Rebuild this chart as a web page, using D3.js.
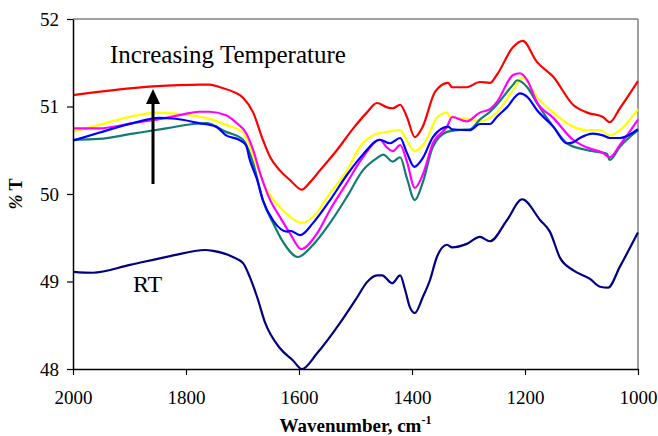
<!DOCTYPE html>
<html>
<head>
<meta charset="utf-8">
<script src="https://cdn.jsdelivr.net/npm/d3@7"></script>
<style>
  html, body { margin: 0; padding: 0; background: #fff; }
  svg { display: block; }
</style>
</head>
<body>
<svg id="chart" width="658" height="436"></svg>
<script>
// FTIR spectra: % transmittance vs. wavenumber (cm-1)
const xTicks = [2000, 1800, 1600, 1400, 1200, 1000];
const yTicks = [48, 49, 50, 51, 52];

// [wavenumber, %T] pairs for each spectrum
const rtSpectrum = [
  [2000,49.11],[1965,49.10],[1899,49.19],[1828,49.29],[1766,49.36],[1752,49.35],[1717,49.28],
  [1699,49.21],[1687,49.05],[1674,48.82],[1660,48.53],[1634,48.24],[1611,48.10],[1595,48.00],
  [1568,48.18],[1527,48.53],[1497,48.82],[1480,48.99],[1462,49.07],[1453,49.07],[1435,48.98],
  [1421,49.07],[1412,48.90],[1404,48.71],[1395,48.64],[1381,48.82],[1368,49.02],[1356,49.28],
  [1338,49.42],[1329,49.39],[1303,49.43],[1280,49.51],[1262,49.46],[1232,49.70],[1205,49.94],
  [1173,49.70],[1156,49.57],[1138,49.27],[1115,49.13],[1085,49.03],[1067,48.94],[1053,48.93],
  [1032,49.17],[1000,49.56]
];
const redSpectrum = [
  [2000,51.13],[1858,51.23],[1775,51.25],[1758,51.25],[1740,51.22],[1717,51.17],[1699,51.10],
  [1681,50.93],[1664,50.62],[1651,50.42],[1634,50.27],[1616,50.16],[1595,50.05],[1581,50.13],
  [1563,50.27],[1533,50.50],[1504,50.75],[1480,50.93],[1462,51.04],[1444,50.99],[1434,50.98],
  [1421,51.02],[1409,50.88],[1395,50.65],[1381,50.77],[1359,51.17],[1336,51.27],[1329,51.22],
  [1303,51.22],[1280,51.28],[1262,51.27],[1250,51.36],[1221,51.68],[1204,51.75],[1179,51.51],
  [1150,51.34],[1115,51.02],[1090,50.93],[1062,50.88],[1050,50.82],[1032,50.98],[1000,51.29]
];
const yellowSpectrum = [
  [2000,50.71],[1954,50.79],[1894,50.89],[1853,50.93],[1805,50.91],[1765,50.87],[1729,50.79],
  [1699,50.70],[1690,50.59],[1674,50.31],[1657,50.05],[1634,49.85],[1616,49.74],[1595,49.67],
  [1575,49.74],[1545,50.01],[1515,50.27],[1492,50.54],[1469,50.67],[1444,50.71],[1421,50.73],
  [1409,50.61],[1395,50.49],[1377,50.59],[1356,50.87],[1338,50.93],[1333,50.88],[1303,50.86],
  [1280,50.83],[1262,50.87],[1250,50.93],[1221,51.19],[1204,51.33],[1179,51.11],[1150,50.93],
  [1115,50.77],[1090,50.73],[1067,50.73],[1050,50.67],[1032,50.73],[1000,50.97]
];
const magentaSpectrum = [
  [2000,50.75],[1954,50.75],[1894,50.81],[1835,50.87],[1805,50.91],[1777,50.94],[1759,50.94],
  [1729,50.90],[1712,50.82],[1694,50.70],[1681,50.50],[1669,50.24],[1651,49.93],[1634,49.74],
  [1616,49.55],[1596,49.37],[1568,49.55],[1545,49.82],[1515,50.13],[1487,50.42],[1457,50.62],
  [1444,50.53],[1434,50.49],[1421,50.56],[1409,50.37],[1395,50.07],[1381,50.22],[1363,50.58],
  [1338,50.77],[1329,50.88],[1303,50.83],[1280,50.93],[1262,50.97],[1250,51.05],[1221,51.36],
  [1209,51.38],[1196,51.30],[1179,51.05],[1150,50.87],[1115,50.62],[1090,50.53],[1062,50.47],
  [1050,50.42],[1032,50.56],[1000,50.85]
];
const blueSpectrum = [
  [2000,50.61],[1954,50.70],[1894,50.81],[1848,50.87],[1818,50.86],[1777,50.81],[1747,50.77],
  [1729,50.67],[1706,50.62],[1694,50.56],[1687,50.39],[1674,50.16],[1664,49.93],[1646,49.70],
  [1621,49.57],[1616,49.58],[1598,49.53],[1575,49.67],[1545,49.93],[1515,50.22],[1487,50.45],
  [1457,50.62],[1439,50.58],[1421,50.64],[1409,50.47],[1396,50.31],[1381,50.41],[1363,50.65],
  [1336,50.77],[1329,50.74],[1297,50.73],[1280,50.80],[1262,50.80],[1250,50.88],[1232,50.99],
  [1209,51.15],[1196,51.11],[1179,50.96],[1150,50.77],[1126,50.58],[1115,50.59],[1103,50.64],
  [1080,50.69],[1062,50.67],[1050,50.64],[1032,50.64],[1000,50.74]
];
const tealSpectrum = [
  [2000,50.62],[1954,50.63],[1894,50.69],[1835,50.75],[1788,50.80],[1765,50.81],[1729,50.71],
  [1699,50.62],[1681,50.35],[1664,49.93],[1646,49.67],[1628,49.45],[1602,49.28],[1575,49.42],
  [1545,49.67],[1515,49.97],[1487,50.27],[1462,50.41],[1451,50.45],[1434,50.37],[1421,50.42],
  [1409,50.18],[1395,49.93],[1381,50.13],[1363,50.54],[1338,50.71],[1320,50.73],[1297,50.74],
  [1280,50.85],[1262,50.94],[1250,51.02],[1221,51.25],[1214,51.30],[1196,51.22],[1179,51.04],
  [1150,50.77],[1126,50.58],[1090,50.50],[1055,50.46],[1050,50.39],[1032,50.54],[1000,50.73]
];

const seriesList = [
  { data: yellowSpectrum,  color: "#ffff00" },
  { data: tealSpectrum,    color: "#117c74" },
  { data: magentaSpectrum, color: "#ff00ff" },
  { data: blueSpectrum,    color: "#0000ff" },
  { data: redSpectrum,     color: "#ff0000" },
  { data: rtSpectrum,      color: "#000080" }
];

// pick the first installed Times-like face
function pickFont(candidates) {
  const ctx = document.createElement("canvas").getContext("2d");
  const probe = "Increasing Temperature 0123456789 Wavenumber";
  for (const base of ["monospace", "sans-serif"]) {
    ctx.font = `40px ${base}`;
    const w0 = ctx.measureText(probe).width;
    for (const name of candidates) {
      ctx.font = `40px "${name}", ${base}`;
      if (Math.abs(ctx.measureText(probe).width - w0) > 0.5) return `"${name}", serif`;
    }
  }
  return "serif";
}
const serif = pickFont(["Liberation Serif", "Tinos", "Times New Roman", "Times", "Nimbus Roman",
  "Nimbus Roman No9 L", "FreeSerif", "Noto Serif", "DejaVu Serif", "Bitstream Vera Serif"]);

const svg = d3.select("#chart");
const margin = { left: 73, right: 20, top: 19, bottom: 67 };
const W = 658, H = 436;

const x = d3.scaleLinear().domain([2000, 1000]).range([margin.left, W - margin.right]);
const y = d3.scaleLinear().domain([48, 52]).range([H - margin.bottom, margin.top]);

// frame: grey top and right edges
svg.append("line")
  .attr("x1", x(2000)).attr("x2", x(1000)).attr("y1", y(52)).attr("y2", y(52))
  .attr("stroke", "#808080").attr("stroke-width", 1.5);
svg.append("line")
  .attr("x1", x(1000)).attr("x2", x(1000)).attr("y1", y(52)).attr("y2", y(48))
  .attr("stroke", "#808080").attr("stroke-width", 1.5);

// spectra
const line = d3.line()
  .x(d => x(d[0]))
  .y(d => y(d[1]))
  .curve(d3.curveMonotoneX);

svg.append("g").selectAll("path")
  .data(seriesList)
  .join("path")
  .attr("d", d => line(d.data))
  .attr("fill", "none")
  .attr("stroke", d => d.color)
  .attr("stroke-width", 2.2)
  .attr("stroke-linejoin", "round");

// axes
const yAxis = svg.append("g")
  .attr("transform", `translate(${x(2000)},0)`)
  .call(d3.axisLeft(y).tickValues(yTicks).tickFormat(d3.format("d")).tickSize(6).tickPadding(8).tickSizeOuter(0));
const xAxis = svg.append("g")
  .attr("transform", `translate(0,${y(48)})`)
  .call(d3.axisBottom(x).tickValues(xTicks).tickFormat(d3.format("d")).tickSize(6).tickPadding(16).tickSizeOuter(0));

[yAxis, xAxis].forEach(g => {
  g.attr("font-family", serif).attr("font-size", 19);
  g.select(".domain").attr("stroke", "#000").attr("stroke-width", 1.5);
  g.selectAll(".tick line").attr("stroke", "#000").attr("stroke-width", 1.2);
  g.selectAll(".tick text").attr("fill", "#000");
});

// axis titles
const xTitle = svg.append("text")
  .attr("x", (x(2000) + x(1000)) / 2)
  .attr("y", 432)
  .attr("text-anchor", "middle")
  .attr("font-family", serif)
  .attr("font-size", 19)
  .attr("font-weight", "bold");
xTitle.append("tspan").text("Wavenumber, cm");
xTitle.append("tspan").attr("dy", -8).attr("font-size", 12).text("-1");

const yTitle = svg.append("text")
  .attr("transform", `translate(22,${(y(48) + y(52)) / 2}) rotate(-90)`)
  .attr("text-anchor", "middle")
  .attr("font-family", serif)
  .attr("font-size", 18)
  .attr("font-weight", "bold");
yTitle.append("tspan").attr("font-style", "italic").text("%");
yTitle.append("tspan").text(" T");

// annotations
svg.append("text")
  .attr("x", 110).attr("y", 63)
  .attr("font-family", serif)
  .attr("font-size", 25)
  .text("Increasing Temperature");

svg.append("text")
  .attr("x", 133).attr("y", 292)
  .attr("font-family", serif)
  .attr("font-size", 24)
  .text("RT");

// arrow
svg.append("line")
  .attr("x1", 153).attr("x2", 153).attr("y1", 184).attr("y2", 100)
  .attr("stroke", "#000").attr("stroke-width", 3);
svg.append("path")
  .attr("d", "M153,89 L146,104 L160,104 Z")
  .attr("fill", "#000");
</script>
</body>
</html>
